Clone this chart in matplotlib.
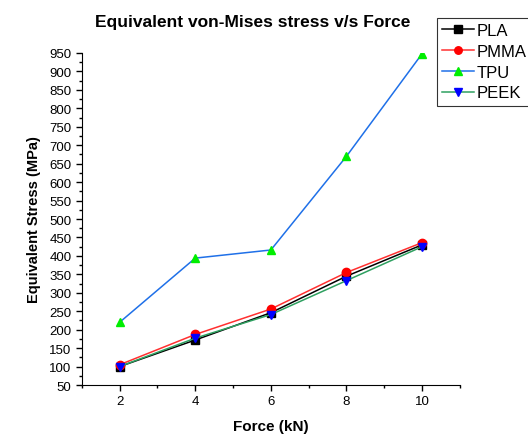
import matplotlib
matplotlib.use('Agg')
import matplotlib.pyplot as plt
from matplotlib.ticker import MultipleLocator

plt.rcParams['font.family'] = ['Liberation Sans', 'DejaVu Sans']

# Data
force = [2, 4, 6, 8, 10]
pla = [100, 172, 246, 345, 430]
pmma = [105, 187, 256, 355, 436]
tpu = [220, 394, 416, 670, 948]
peek = [100, 177, 241, 333, 425]

series = [
    ('PLA', pla, '#000000', '#000000', 's'),
    ('PMMA', pmma, '#ff3030', '#ff0000', 'o'),
    ('TPU', tpu, '#1f70e8', '#00ee00', '^'),
    ('PEEK', peek, '#2ea060', '#0000ff', 'v'),
]

fig = plt.figure(figsize=(5.28, 4.39), dpi=100)
ax = fig.add_axes([0.155, 0.1207, 0.716, 0.7563])

for name, vals, lc, mc, mk in series:
    ax.plot(force, vals, color=lc, linewidth=1.1, marker=mk,
            markersize=6, markerfacecolor=mc, markeredgecolor=mc,
            label=name)

ax.set_xlim(1, 11)
ax.set_ylim(50, 950)
ax.xaxis.set_major_locator(MultipleLocator(2))
ax.xaxis.set_minor_locator(MultipleLocator(1))
ax.yaxis.set_major_locator(MultipleLocator(50))
ax.yaxis.set_minor_locator(MultipleLocator(25))
ax.tick_params(which='major', direction='out', length=4, width=1,
               labelsize=9.5)
ax.tick_params(which='minor', direction='out', length=2.5, width=1)
ax.spines['top'].set_visible(False)
ax.spines['right'].set_visible(False)

ax.set_xlabel('Force (kN)', fontsize=11, fontweight='bold', labelpad=8)
ax.set_ylabel('Equivalent Stress (MPa)', fontsize=10.5, fontweight='bold',
              labelpad=6)
fig.text(253 / 528, 1 - 22 / 439, 'Equivalent von-Mises stress v/s Force',
         ha='center', va='center', fontsize=12.5, fontweight='bold')

leg = ax.legend(loc='upper left', bbox_to_anchor=(437 / 528, 1 - 19 / 439),
                bbox_transform=fig.transFigure, frameon=True, fancybox=False,
                edgecolor='black', fontsize=12, handlelength=1.9,
                handletextpad=0.15, borderpad=0.3, labelspacing=0.35,
                borderaxespad=0, markerscale=0.9)
leg.get_frame().set_linewidth(0.8)

fig.savefig('out.png', dpi=100)
